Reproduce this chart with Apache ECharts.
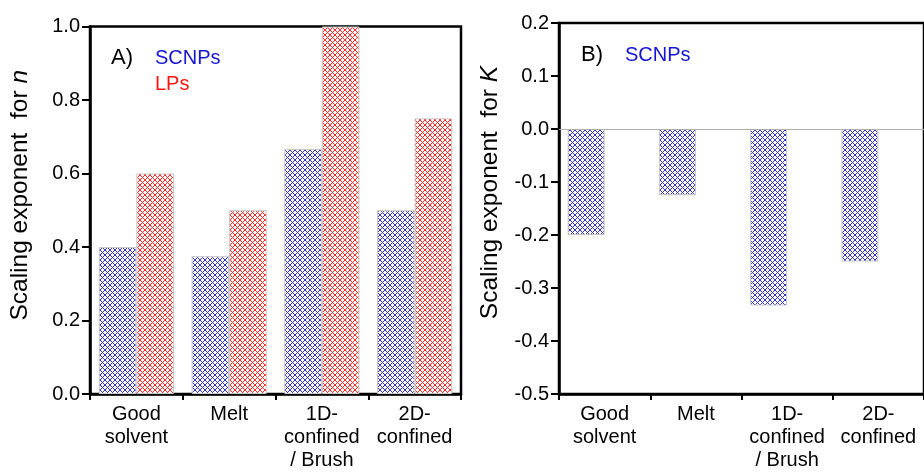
<!DOCTYPE html>
<html>
<head>
<meta charset="utf-8">
<script src="https://cdn.jsdelivr.net/npm/echarts@6/dist/echarts.min.js"></script>
<style>
html,body{margin:0;padding:0;background:#fff;}
#c{width:924px;height:472px;}
</style>
</head>
<body>
<div id="c"></div>
<script>
// ---- data ----
const categories = ['Good\nsolvent', 'Melt', '1D-\nconfined\n/ Brush', '2D-\nconfined'];
const nSCNPs = [0.4, 0.375, 0.667, 0.5];
const nLPs = [0.6, 0.5, 1.0, 0.75];
const kSCNPs = [-0.2, -0.125, -0.333, -0.25];
const yTicksA = { min: 0, max: 1.0, interval: 0.2 };
const yTicksB = { min: -0.5, max: 0.2, interval: 0.1 };

function hatch(color) {
  const p = 5;
  const c = document.createElement('canvas');
  c.width = p; c.height = p;
  const g = c.getContext('2d');
  g.fillStyle = '#fff';
  g.fillRect(0, 0, p, p);
  g.strokeStyle = color;
  g.lineWidth = 1.0;
  g.beginPath();
  g.moveTo(-1, -1); g.lineTo(p + 1, p + 1);
  g.moveTo(p + 1, -1); g.lineTo(-1, p + 1);
  g.stroke();
  return { image: c, repeat: 'repeat' };
}
const blueHatch = hatch('#3434c4');
const redHatch = hatch('#ff2828');

const font = 'Liberation Sans, Arial, sans-serif';
const chart = echarts.init(document.getElementById('c'));

function xAxisDef(gi) {
  return {
    gridIndex: gi, type: 'category', data: categories,
    axisLine: { onZero: false, lineStyle: { color: '#000', width: 2.5 } },
    axisTick: { show: true, length: 6, inside: false, lineStyle: { color: '#000', width: 2 } },
    axisLabel: { interval: 0, color: '#000', fontSize: 20, lineHeight: 23, margin: 9, fontFamily: font },
    splitLine: { show: false }
  };
}
function yAxisDef(gi, t, nameVar, gap, shift) {
  return {
    gridIndex: gi, type: 'value', min: t.min, max: t.max, interval: t.interval,
    name: 'Scaling exponent  for {i|' + nameVar + '}',
    nameLocation: 'middle', nameRotate: 90, nameGap: gap,
    nameTextStyle: { color: '#000', fontSize: 24.5, fontFamily: font, padding: [0, 0, 0, shift],
      rich: { i: { fontStyle: 'italic', fontSize: 24.5, color: '#000', fontFamily: font } } },
    axisLine: { show: true, onZero: false, lineStyle: { color: '#000', width: 2.5 } },
    axisTick: { show: true, length: 8, inside: false, lineStyle: { color: '#000', width: 2 } },
    axisLabel: { color: '#000', fontSize: 20, margin: 10, fontFamily: font,
      formatter: v => v.toFixed(1) },
    splitLine: { show: false }
  };
}
const barStyle = (fill) => ({ color: fill, borderColor: '#c8c8c8', borderWidth: 1 });

chart.setOption({
  animation: false,
  backgroundColor: '#fff',
  grid: [
    { left: 90, top: 26.5, width: 371, height: 371.5, show: true, borderColor: '#000', borderWidth: 2.5 },
    { left: 559, top: 23, width: 375, height: 374, show: true, borderColor: '#000', borderWidth: 2.5 }
  ],
  xAxis: [xAxisDef(0), xAxisDef(1)],
  yAxis: [yAxisDef(0, yTicksA, 'n', 57, 30), yAxisDef(1, yTicksB, 'K', 56, 32)],
  series: [
    { type: 'bar', xAxisIndex: 0, yAxisIndex: 0, data: nSCNPs, barGap: '0%', barCategoryGap: '19%', itemStyle: barStyle(blueHatch) },
    { type: 'bar', xAxisIndex: 0, yAxisIndex: 0, data: nLPs, barGap: '0%', barCategoryGap: '19%', itemStyle: barStyle(redHatch) },
    { type: 'bar', xAxisIndex: 1, yAxisIndex: 1, data: kSCNPs, barGap: '0%', barCategoryGap: '19%', itemStyle: barStyle(blueHatch),
      markLine: { silent: true, symbol: 'none', label: { show: false },
        lineStyle: { color: '#b0b0b0', width: 1, type: 'solid' }, data: [{ yAxis: 0 }] } },
    { type: 'bar', xAxisIndex: 1, yAxisIndex: 1, data: ['-', '-', '-', '-'], barGap: '0%', barCategoryGap: '19%', itemStyle: barStyle(redHatch) }
  ],
  graphic: [
    { type: 'text', left: 111, top: 47, style: { text: 'A)', fontSize: 22, fill: '#000', fontFamily: font } },
    { type: 'text', left: 155, top: 48, style: { text: 'SCNPs', fontSize: 20, fill: '#1414d2', fontFamily: font } },
    { type: 'text', left: 155, top: 74, style: { text: 'LPs', fontSize: 20, fill: '#ff1414', fontFamily: font } },
    { type: 'text', left: 581, top: 44, style: { text: 'B)', fontSize: 22, fill: '#000', fontFamily: font } },
    { type: 'text', left: 625, top: 45, style: { text: 'SCNPs', fontSize: 20, fill: '#1414d2', fontFamily: font } }
  ]
});
</script>
</body>
</html>
